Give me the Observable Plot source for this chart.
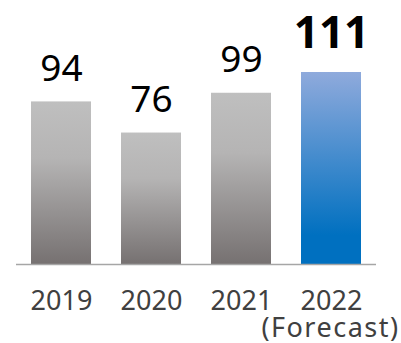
<!DOCTYPE html>
<html>
<head>
<meta charset="utf-8">
<script src="https://cdn.jsdelivr.net/npm/d3@7"></script>
<script src="https://cdn.jsdelivr.net/npm/@observablehq/plot@0.6"></script>
<style>
  html, body { margin: 0; padding: 0; background: #fff; }
  #chart svg { display: block; }
</style>
</head>
<body>
<div id="chart"></div>
<script>
const years = ["2019", "2020", "2021", "2022"];
const values = [94, 76, 99, 111];
const forecast = [false, false, false, true];
const forecastNote = "(Forecast)";

const data = years.map((y, i) => ({year: y, value: values[i], forecast: forecast[i]}));
const font = "'Noto Sans', sans-serif";

const chart = Plot.plot({
  width: 401,
  height: 343,
  marginLeft: 16,
  marginRight: 25,
  marginTop: 72,
  marginBottom: 79,
  style: {background: "#fff", fontFamily: font},
  x: {domain: years, paddingInner: 1/3, paddingOuter: 1/6, axis: null},
  y: {domain: [0, 111], axis: null},
  marks: [
    Plot.barY(data, {filter: d => !d.forecast, x: "year", y: "value", fill: "url(#grayGrad)"}),
    Plot.barY(data, {filter: d => d.forecast, x: "year", y: "value", fill: "url(#blueGrad)"}),
    Plot.ruleY([0], {stroke: "#a6a6a6", strokeWidth: 1.5}),
    Plot.text(data, {filter: d => !d.forecast, x: "year", y: "value", text: d => String(d.value),
      lineAnchor: "bottom", dy: -21, fontSize: 37, fill: "#000"}),
    Plot.text(data, {filter: d => d.forecast, x: "year", y: "value", text: d => String(d.value),
      lineAnchor: "bottom", dy: -25, fontSize: 44, fontWeight: "bold", fill: "#000"}),
    Plot.text(data, {x: "year", y: () => 0, text: "year", lineAnchor: "bottom", dy: 45,
      fontSize: 27, fill: "#404040"}),
    Plot.text(data, {filter: d => d.forecast, x: "year", y: () => 0, text: () => forecastNote,
      lineAnchor: "bottom", dy: 72, dx: -1, fontSize: 27, fill: "#404040"})
  ]
});

const svg = d3.select(chart);
svg.selectAll("text").filter(function() { return this.textContent === forecastNote; })
  .attr("letter-spacing", "1.5px");
const defs = svg.insert("defs", ":first-child");
const g1 = defs.append("linearGradient").attr("id", "grayGrad").attr("x1", 0).attr("y1", 0).attr("x2", 0).attr("y2", 1);
g1.append("stop").attr("offset", "0%").attr("stop-color", "#bfbfbf");
g1.append("stop").attr("offset", "35%").attr("stop-color", "#b5b4b4");
g1.append("stop").attr("offset", "100%").attr("stop-color", "#767171");
const g2 = defs.append("linearGradient").attr("id", "blueGrad").attr("x1", 0).attr("y1", 0).attr("x2", 0).attr("y2", 1);
g2.append("stop").attr("offset", "0%").attr("stop-color", "#8faadc");
g2.append("stop").attr("offset", "85%").attr("stop-color", "#0070c0");
g2.append("stop").attr("offset", "100%").attr("stop-color", "#0070c0");

document.getElementById("chart").appendChild(chart);
</script>
</body>
</html>
